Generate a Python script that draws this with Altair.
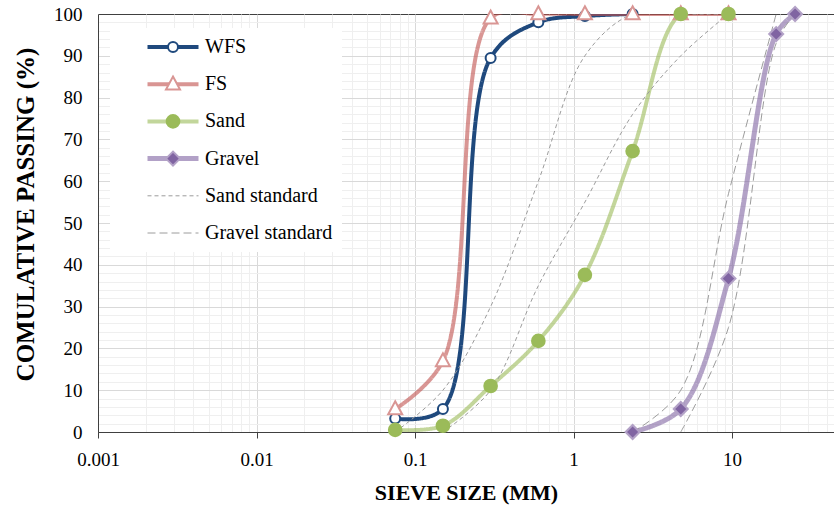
import altair as alt
import pandas as pd

# Measured gradings: sieve opening (mm) and cumulative passing (%)
wfs_sieve = [0.075, 0.15, 0.3, 0.6, 1.18, 2.36]
wfs_pass = [3.2, 5.5, 89.5, 98.0, 99.5, 100.0]

fs_sieve = [0.075, 0.15, 0.3, 0.6, 1.18, 2.36, 4.75, 9.5]
fs_pass = [5.5, 17.0, 99.0, 100.0, 100.0, 100.0, 100.0, 100.0]

sand_sieve = [0.075, 0.15, 0.3, 0.6, 1.18, 2.36, 4.75, 9.5]
sand_pass = [0.5, 1.5, 11.0, 21.8, 37.6, 67.2, 100.0, 100.0]

gravel_sieve = [2.36, 4.75, 9.5, 19.0, 25.0]
gravel_pass = [0.0, 5.5, 36.7, 95.2, 100.0]

# Grading envelopes (upper and lower limits)
sand_upper_sieve = [0.075, 0.15, 0.3, 0.6, 1.18, 2.36, 4.75, 9.5]
sand_upper_pass = [0.0, 10.0, 30.0, 60.0, 90.0, 100.0, 100.0, 100.0]
sand_lower_sieve = [0.15, 0.3, 0.6, 1.18, 2.36, 4.75, 9.5]
sand_lower_pass = [0.0, 10.0, 35.0, 55.0, 76.0, 90.0, 100.0]

gravel_upper_sieve = [2.36, 4.75, 9.5, 19.0]
gravel_upper_pass = [0.0, 10.0, 57.0, 100.0]
gravel_lower_sieve = [4.75, 9.5, 19.0, 25.0]
gravel_lower_pass = [0.0, 25.0, 93.0, 100.0]

# Series styling
series_names = ["WFS", "FS", "Sand", "Gravel", "Sand standard", "Gravel standard"]
line_colors = ["#1f497d", "#c0504d", "#9bbb59", "#8064a2", "#9c9c9c", "#9c9c9c"]
line_widths = [4, 4, 4, 5, 1, 1]
line_opacity = [1.0, 0.6, 0.6, 0.6, 1.0, 1.0]
line_dashes = [[1, 0], [1, 0], [1, 0], [1, 0], [4, 3], [8, 4]]

TRIANGLE = "M0,-1.1L1,0.75L-1,0.75Z"
marker_names = ["WFS", "FS", "Sand", "Gravel"]
marker_shapes = ["circle", TRIANGLE, "circle", "diamond"]
marker_fill = ["#ffffff", "#ffffff", "#9bbb59", "#8064a2"]
marker_stroke = ["#1f497d", "#d99694", "#9bbb59", "#b3a2c7"]
marker_size = [100, 196, 160, 196]

curves = [
    ("WFS", "WFS", wfs_sieve, wfs_pass),
    ("FS", "FS", fs_sieve, fs_pass),
    ("Sand", "Sand", sand_sieve, sand_pass),
    ("Gravel", "Gravel", gravel_sieve, gravel_pass),
    ("Sand standard", "sand upper", sand_upper_sieve, sand_upper_pass),
    ("Sand standard", "sand lower", sand_lower_sieve, sand_lower_pass),
    ("Gravel standard", "gravel upper", gravel_upper_sieve, gravel_upper_pass),
    ("Gravel standard", "gravel lower", gravel_lower_sieve, gravel_lower_pass),
]

line_rows = []
for series, curve, xs, ys in curves:
    for x, y in zip(xs, ys):
        line_rows.append({"series": series, "curve": curve, "sieve": x, "passing": y})
line_df = pd.DataFrame(line_rows)

point_rows = []
for series, curve, xs, ys in curves[:4]:
    for x, y in zip(xs, ys):
        point_rows.append({"marker": series, "sieve": x, "passing": y})
point_df = pd.DataFrame(point_rows)

FONT = "Liberation Serif"

# log axis: gridlines at 1..9 x 10^k, labels only at decades
x_ticks = [float(f"{d}e{k}") for k in range(-3, 2) for d in range(1, 10)] + [20.0, 30.0, 40.0]
is_decade = "indexof([0.001, 0.01, 0.1, 1, 10], datum.value) >= 0"

x_axis = alt.Axis(
    values=x_ticks,
    labelExpr=f"{is_decade} ? format(datum.value, '~g') : ''",
    labelFlush=False,
    labelOverlap=False,
    labelFont=FONT,
    labelFontSize=19,
    labelColor="black",
    labelPadding=12,
    tickSize=6,
    tickColor="#404040",
    tickOpacity=alt.condition(is_decade, alt.value(1), alt.value(0)),
    domainColor="#404040",
    grid=True,
    gridColor=alt.condition(is_decade, alt.value("#d9d9d9"), alt.value("#efefef")),
    title="SIEVE SIZE (MM)",
    titleFont=FONT,
    titleFontSize=22,
    titleFontWeight="bold",
    titleColor="black",
    titlePadding=13,
)

y_axis = alt.Axis(
    values=list(range(0, 101, 2)),
    labelExpr="datum.value % 10 == 0 ? datum.label : ''",
    labelOverlap=False,
    labelFont=FONT,
    labelFontSize=19,
    labelColor="black",
    labelPadding=16,
    ticks=False,
    domainColor="#404040",
    grid=True,
    gridColor=alt.condition("datum.value % 10 == 0", alt.value("#d9d9d9"), alt.value("#efefef")),
    gridOpacity=alt.condition("datum.value == 0 || datum.value == 100", alt.value(0), alt.value(1)),
    title="COMULATIVE PASSING (%)",
    titleFont=FONT,
    titleFontSize=25,
    titleFontWeight="bold",
    titleColor="black",
    titlePadding=15,
    titleY=200,
)

x_scale = alt.Scale(type="log", domain=[0.001, 44], nice=False)
y_scale = alt.Scale(domain=[0, 100], nice=False)

pad = "\u00a0" * 6
line_legend = alt.Legend(
    title=None,
    orient="none",
    legendX=12,
    legendY=14,
    direction="vertical",
    symbolType="stroke",
    symbolSize=2601,
    clipHeight=20,
    rowPadding=17.2,
    labelFont=FONT,
    labelFontSize=20,
    labelColor="black",
    labelOffset=4,
    labelLimit=400,
    labelExpr=f"datum.label + '{pad}'",
    padding=9,
    fillColor="white",
    symbolOffset=26,
    zindex=1,
)

marker_legend = alt.Legend(
    title=None,
    orient="none",
    legendX=12,
    legendY=14,
    direction="vertical",
    clipHeight=20,
    rowPadding=17.2,
    labelFont=FONT,
    labelFontSize=20,
    labelExpr="''",
    labelLimit=400,
    padding=9,
    symbolOffset=44,
    symbolStrokeWidth=2,
    zindex=2,
)

lines = alt.Chart(line_df).mark_line(interpolate="catmull-rom", clip=True).encode(
    x=alt.X("sieve:Q", scale=x_scale, axis=x_axis),
    y=alt.Y("passing:Q", scale=y_scale, axis=y_axis),
    color=alt.Color("series:N", scale=alt.Scale(domain=series_names, range=line_colors), legend=line_legend),
    strokeDash=alt.StrokeDash("series:N", scale=alt.Scale(domain=series_names, range=line_dashes), legend=line_legend),
    strokeWidth=alt.StrokeWidth("series:N", scale=alt.Scale(type="ordinal", domain=series_names, range=line_widths), legend=line_legend),
    opacity=alt.Opacity("series:N", scale=alt.Scale(type="ordinal", domain=series_names, range=line_opacity), legend=line_legend),
    detail="curve:N",
)

points = alt.Chart(point_df).mark_point(strokeWidth=2, opacity=1).encode(
    x=alt.X("sieve:Q", scale=x_scale, axis=x_axis),
    y=alt.Y("passing:Q", scale=y_scale, axis=y_axis),
    shape=alt.Shape("marker:N", scale=alt.Scale(domain=marker_names, range=marker_shapes), legend=marker_legend),
    fill=alt.Fill("marker:N", scale=alt.Scale(domain=marker_names, range=marker_fill), legend=marker_legend),
    stroke=alt.Stroke("marker:N", scale=alt.Scale(domain=marker_names, range=marker_stroke), legend=marker_legend),
    size=alt.Size("marker:N", scale=alt.Scale(type="ordinal", domain=marker_names, range=marker_size), legend=marker_legend),
)

chart = (
    alt.layer(lines, points)
    .properties(
        width=736,
        height=418,
        autosize=alt.AutoSizeParams(type="none"),
        padding={"left": 98, "top": 14, "right": 0, "bottom": 79},
        background="white",
    )
    .configure(font=FONT)
    .configure_view(stroke="#404040", strokeWidth=1)
    .configure_axis(labelFont=FONT, titleFont=FONT, labelOverlap=False)
    .configure_legend(labelFont=FONT)
)

chart.save("out.html", embed_options={"renderer": "svg", "actions": False})
